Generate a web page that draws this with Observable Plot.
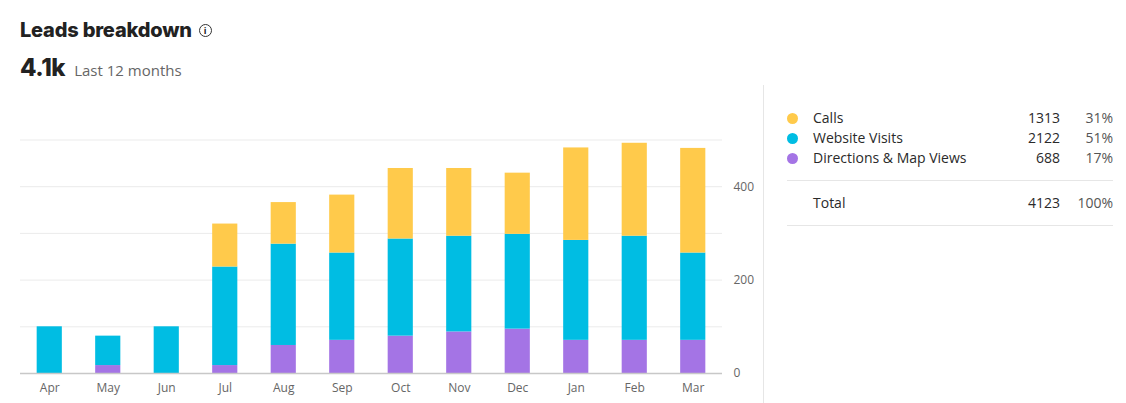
<!DOCTYPE html>
<html>
<head>
<meta charset="utf-8">
<script src="https://cdn.jsdelivr.net/npm/d3@7"></script>
<script src="https://cdn.jsdelivr.net/npm/@observablehq/plot@0.6"></script>
<style>
  html, body { margin: 0; padding: 0; background: #fff; width: 1126px; height: 403px; overflow: hidden; font-family: "Open Sans", sans-serif; }
  #title { position: absolute; left: 20px; top: 18px; font-family: Inter, sans-serif; font-weight: 800; font-size: 20px; color: #222; letter-spacing: -0.2px; display: flex; align-items: center; }
  #info { display: inline-block; width: 11px; height: 11px; border: 1.5px solid #333; border-radius: 50%; margin-left: 7px; font-size: 9px; line-height: 11px; text-align: center; font-weight: 700; font-family: "Open Sans", sans-serif; letter-spacing: 0; }
  #kpi { position: absolute; left: 20px; top: 53px; display: flex; align-items: baseline; }
  #kpi .big { font-family: Inter, sans-serif; font-weight: 800; font-size: 24px; color: #222; letter-spacing: -0.4px; }
  #kpi .sub { font-size: 15px; color: #666; margin-left: 9px; }
  #chart { position: absolute; left: 0; top: 100px; }
  #divider { position: absolute; left: 763px; top: 85px; width: 1px; height: 318px; background: #e6e6e6; }
  #legend { position: absolute; left: 787px; top: 108px; width: 326px; font-size: 14px; color: #2a2a2a; }
  .row { position: relative; height: 20px; line-height: 20px; }
  .dot { position: absolute; left: 0px; top: 5px; width: 11px; height: 11px; border-radius: 50%; }
  .name { position: absolute; left: 26px; }
  .val { position: absolute; right: 53px; }
  .pct { position: absolute; right: 0; color: #555; }
  .sep { border-top: 1px solid #e6e6e6; margin: 12px 0 12px 0; }
</style>
</head>
<body>
<div id="title">Leads breakdown<span id="info">i</span></div>
<div id="kpi"><span class="big">4.1k</span><span class="sub">Last 12 months</span></div>
<div id="chart"></div>
<div id="divider"></div>
<div id="legend"></div>
<script>
const months = ["Apr","May","Jun","Jul","Aug","Sep","Oct","Nov","Dec","Jan","Feb","Mar"];
const directions = [0, 17, 0, 17, 60, 71, 80, 89, 95, 71, 71, 71];
const website =    [100, 63, 100, 211, 217, 187, 208, 205, 203, 214, 223, 187];
const calls =      [0, 0, 0, 92, 89, 124, 151, 145, 131, 198, 199, 224];
const seriesNames = ["Directions & Map Views", "Website Visits", "Calls"];
const seriesColors = ["#A474E5", "#00BDE3", "#FFCA4B"];
const yTicks = [0, 200, 400];
const gridTicks = [100, 200, 300, 400, 500];
const legendRows = [
  {name: "Calls", value: 1313, pct: "31%", color: "#FFCA4B"},
  {name: "Website Visits", value: 2122, pct: "51%", color: "#00BDE3"},
  {name: "Directions & Map Views", value: 688, pct: "17%", color: "#A474E5"}
];
const totalRow = {name: "Total", value: 4123, pct: "100%"};

const data = [];
months.forEach((m, i) => {
  data.push({month: m, series: seriesNames[0], value: directions[i]});
  data.push({month: m, series: seriesNames[1], value: website[i]});
  data.push({month: m, series: seriesNames[2], value: calls[i]});
});

const chart = Plot.plot({
  width: 760,
  height: 303,
  marginLeft: 20,
  marginRight: 38,
  marginTop: 39.5,
  marginBottom: 30,
  style: {fontFamily: "Open Sans, sans-serif", fontSize: "12px", color: "#666", background: "transparent"},
  x: {domain: months, paddingInner: 0.57, paddingOuter: 0.285, round: false, label: null},
  y: {domain: [0, 500], label: null},
  color: {domain: seriesNames, range: seriesColors},
  marks: [
    Plot.ruleY(gridTicks, {stroke: "#ebebeb", strokeWidth: 1}),
    Plot.barY(data, {x: "month", y: "value", fill: "series", order: seriesNames}),
    Plot.ruleY([0], {stroke: "#c8c8c8", strokeWidth: 1.5}),
    Plot.axisX({tickSize: 0, tickPadding: 10, fill: "#666", fontSize: 12}),
    Plot.axisY(yTicks, {anchor: "right", tickSize: 0, tickPadding: 11, textAnchor: "start", fill: "#666", fontSize: 12})
  ]
});
document.getElementById("chart").appendChild(chart);

const legend = document.getElementById("legend");
legendRows.forEach(r => {
  const row = document.createElement("div");
  row.className = "row";
  row.innerHTML = `<span class="dot" style="background:${r.color}"></span><span class="name">${r.name}</span><span class="val">${r.value}</span><span class="pct">${r.pct}</span>`;
  legend.appendChild(row);
});
const s1 = document.createElement("div"); s1.className = "sep"; legend.appendChild(s1);
const tr = document.createElement("div");
tr.className = "row";
tr.innerHTML = `<span class="name">${totalRow.name}</span><span class="val">${totalRow.value}</span><span class="pct">${totalRow.pct}</span>`;
legend.appendChild(tr);
const s2 = document.createElement("div"); s2.className = "sep"; legend.appendChild(s2);
</script>
</body>
</html>
